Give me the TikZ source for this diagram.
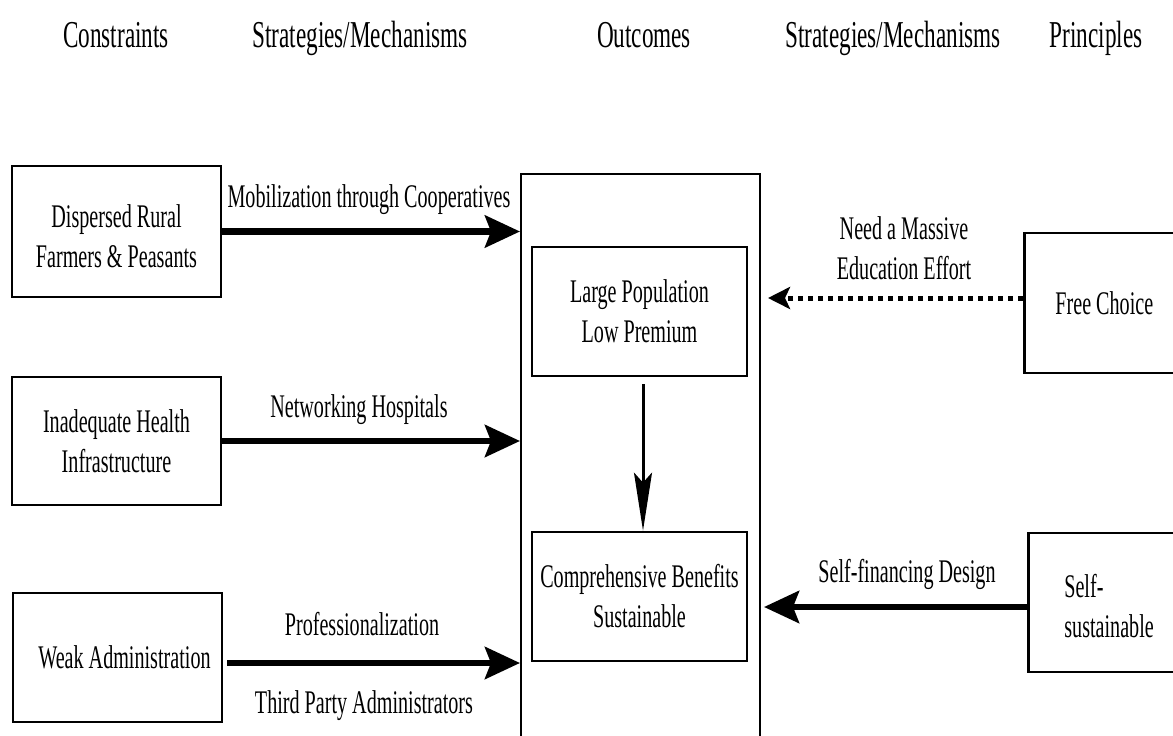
\documentclass[tikz,border=0pt]{standalone}
\usepackage{fontspec}
\setmainfont[FakeStretch=0.61]{Liberation Serif}
\usetikzlibrary{calc,arrows.meta}

\begin{document}
\begin{tikzpicture}[x=1pt,y=-1pt,
  box/.style={draw,line width=2.7pt,align=center,inner sep=0pt,font=\fontsize{33}{40}\selectfont},
  lbl/.style={inner sep=0pt,font=\fontsize{33}{40}\selectfont},
  head/.style={inner sep=0pt,anchor=base,font=\fontsize{38}{44}\selectfont},
  fat/.style={line width=6.5pt,-{Stealth[length=35pt,width=32pt,inset=6pt]}},
  slim/.style={line width=3pt,-{Stealth[length=58pt,width=18pt,inset=10pt]}},
  dotty/.style={line width=5pt,dash pattern=on 5pt off 5pt,-{Stealth[length=22pt,width=22pt,inset=5pt]}}]
\useasboundingbox (0,0) rectangle (1173,736);
%%%% column heads
\node[head] (hcon) at (116,47) {Constraints};
\node[head] (hstl) at (360,47) {Strategies/Mechanisms};
\node[head] (hout) at (644,47) {Outcomes};
\node[head] (hstr) at (893,47) {Strategies/Mechanisms};
\node[head] (hpri) at (1096,47) {Principles};
%%%% constraints
\node[box,minimum width=209pt,minimum height=131pt] (drf) at (116.5,231.5) {\rule{0pt}{33pt}Dispersed Rural\\Farmers \& Peasants};
\node[box,minimum width=209pt,minimum height=128pt] (ihi) at (116.5,441) {Inadequate Health\\Infrastructure};
\node[box,minimum width=209pt,minimum height=129pt] (wad) at (117.5,657.5) {\hspace*{14pt}Weak Administration};
%%%% outcomes
\node[draw,line width=2pt,minimum width=239pt,minimum height=640pt,anchor=north] (outc) at (640.5,173) {};
\node[box,minimum width=215pt,minimum height=129pt] (lpp) at (639.5,311.5) {Large Population\\Low Premium};
\node[box,minimum width=215pt,minimum height=129pt] (cbs) at (639.5,596.5) {Comprehensive Benefits\\Sustainable};
%%%% principles
\node[box,minimum width=160pt,minimum height=140pt,anchor=west] (frc) at (1023,303) {Free Choice};
\node[box,minimum width=172pt,minimum height=139pt,anchor=west,align=left,text width=100pt,inner xsep=36pt] (sst) at (1027,602.5) {\rule{0pt}{31pt}Self-\\sustainable};
%
\coordinate (wae) at ([xshift=4pt,yshift=-5.5pt]wad.east);
\coordinate (fcw) at ([yshift=5pt]frc.west);
\coordinate (ssw) at ([yshift=-4.5pt]sst.west);
%%%% arrows
\draw[fat] (drf.east) -- (drf.east -| outc.west);
\draw[fat] (ihi.east) -- (ihi.east -| outc.west);
\draw[fat] (wae) -- (wae -| outc.west);
\draw[slim] ([xshift=3.5pt,yshift=-7pt]lpp.south) -- ([xshift=3.5pt]cbs.north);
\draw[dotty] (fcw) -- ($(fcw -| outc.east)+(7,0)$);
\draw[fat] (ssw) -- ($(ssw -| outc.east)+(3,0)$);
%%%% labels
\node[lbl,anchor=base] (mob) at (369,207) {Mobilization through Cooperatives};
\node[lbl,anchor=base] (net) at (359,417) {Networking Hospitals};
\node[lbl,anchor=base] (pro) at (362,635) {Professionalization};
\node[lbl,anchor=base] (tpa) at (364,713) {Third Party Administrators};
\node[lbl,align=center,anchor=south] (edu) at (904,280) {Need a Massive\\Education Effort};
\node[lbl,anchor=base] (sfd) at (907,582) {Self-financing Design};
\end{tikzpicture}
\end{document}
